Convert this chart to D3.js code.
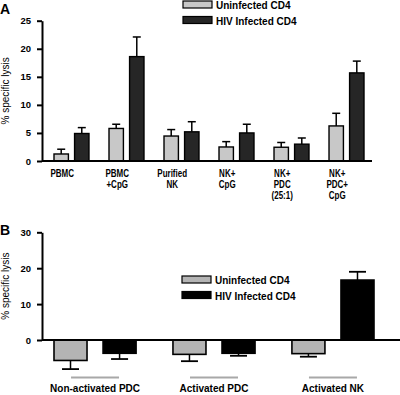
<!DOCTYPE html>
<html>
<head>
<meta charset="utf-8">
<script src="https://cdn.jsdelivr.net/npm/d3@7"></script>
<style>
  body { margin: 0; background: #fff; }
  svg { display: block; font-family: Arial, "Liberation Sans", sans-serif; }
</style>
</head>
<body>
<div id="chart"></div>
<script>
// two stacked bar panels: % specific lysis
// ======================================

var seriesNames = ["Uninfected CD4", "HIV Infected CD4"];

// panel A
var labelsA = [["PBMC"], ["PBMC", "+CpG"], ["Purified", "NK"], ["NK+", "CpG"], ["NK+", "PDC", "(25:1)"], ["NK+", "PDC+", "CpG"]];
var uninfA = [1.25, 5.8, 4.45, 2.5, 2.45, 6.25];
var uninfAErr = [0.85, 0.75, 1.15, 0.95, 0.85, 2.25];
var hivA = [4.9, 18.6, 5.2, 5.0, 3.0, 15.7];
var hivAErr = [1.05, 3.5, 1.8, 1.55, 1.1, 2.1];
var ticksA = [0, 5, 10, 15, 20, 25];

// panel B
var labelsB = ["Non-activated PDC", "Activated PDC", "Activated NK"];
var uninfB = [-5.7, -4.0, -3.8];
var uninfBErr = [2.4, 1.9, 0.85];
var hivB = [-3.7, -3.7, 16.7];
var hivBErr = [1.6, 0.7, 2.3];
var ticksB = [0, 10, 20, 30];

var width = 400, height = 395;

var svg = d3.select("#chart").append("svg")
    .attr("width", width)
    .attr("height", height);

function rows(labels, u, uErr, h, hErr) {
    return labels.map(function(l, i) {
        return {key: i, label: l, vals: [
            {s: seriesNames[0], v: u[i], e: uErr[i]},
            {s: seriesNames[1], v: h[i], e: hErr[i]}
        ]};
    });
}

function yAxis(g, y, ticks) {
    g.call(d3.axisLeft(y).tickValues(ticks).tickSize(5).tickSizeOuter(0).tickPadding(6));
    g.select(".domain").attr("stroke-width", 2);
    g.selectAll(".tick line").attr("stroke-width", 2);
    g.selectAll(".tick text").attr("font-size", 9.5).attr("font-weight", "bold").attr("fill", "#000");
}

function legend(g, colours) {
    seriesNames.forEach(function(s, i) {
        g.append("rect").attr("x", 0).attr("y", i * 15.5).attr("width", 29).attr("height", 7)
            .attr("fill", colours[i]).attr("stroke", "#000").attr("stroke-width", 1.2);
        g.append("text").attr("x", 33).attr("y", i * 15.5 + 8).attr("font-size", 10)
            .attr("font-weight", "bold").text(s);
    });
}

// ---------- panel A ----------
var dataA = rows(labelsA, uninfA, uninfAErr, hivA, hivAErr);
var xA = d3.scaleBand().domain(dataA.map(d => d.key)).range([54, 364]).paddingInner(0.364).paddingOuter(0);
var xA1 = d3.scaleBand().domain(seriesNames).range([0, xA.bandwidth()]).paddingInner(0.3);
var yA = d3.scaleLinear().domain([0, 25]).range([161, 20.7]);
var colA = d3.scaleOrdinal().domain(seriesNames).range(["#c8c8c8", "#262626"]);

svg.append("text").attr("x", 0).attr("y", 14).attr("font-size", 14).attr("font-weight", "bold").text("A");

var gA = svg.append("g");
var grpA = gA.selectAll("g.grp").data(dataA).enter().append("g")
    .attr("transform", d => "translate(" + xA(d.key) + ",0)");

// error bars (upwards only)
grpA.selectAll("g.err").data(d => d.vals).enter().append("g").each(function(d) {
    var cx = xA1(d.s) + xA1.bandwidth() / 2;
    var g = d3.select(this);
    g.append("line").attr("x1", cx).attr("x2", cx).attr("y1", yA(d.v)).attr("y2", yA(d.v + d.e))
        .attr("stroke", "#000").attr("stroke-width", 1.5);
    g.append("line").attr("x1", cx - 4).attr("x2", cx + 4).attr("y1", yA(d.v + d.e)).attr("y2", yA(d.v + d.e))
        .attr("stroke", "#000").attr("stroke-width", 1.5);
});

grpA.selectAll("rect").data(d => d.vals).enter().append("rect")
    .attr("x", d => xA1(d.s))
    .attr("width", xA1.bandwidth())
    .attr("y", d => yA(d.v))
    .attr("height", d => yA(0) - yA(d.v))
    .attr("fill", d => colA(d.s))
    .attr("stroke", "#000")
    .attr("stroke-width", 1.4);

// category labels (narrow type in the original)
grpA.each(function(d) {
    var cx = xA1(seriesNames[0]) + xA1.bandwidth() / 2 + 1;
    var g = d3.select(this);
    d.label.forEach(function(line, j) {
        g.append("text")
            .attr("transform", "translate(" + cx + "," + (177 + j * 11) + ") scale(0.8,1)")
            .attr("text-anchor", "middle").attr("font-size", 10).attr("font-weight", "bold")
            .text(line);
    });
});

gA.append("line").attr("x1", 42).attr("x2", 372).attr("y1", yA(0)).attr("y2", yA(0))
    .attr("stroke", "#000").attr("stroke-width", 2);
gA.append("g").attr("transform", "translate(42,0)").call(yAxis, yA, ticksA);

svg.append("text")
    .attr("transform", "translate(9," + (yA(0) + yA(25)) / 2 + ") rotate(-90)")
    .attr("text-anchor", "middle").attr("font-size", 10)
    .text("% specific lysis");

legend(svg.append("g").attr("transform", "translate(183,1)"), colA.range());

// ---------- panel B ----------
var dataB = rows(labelsB, uninfB, uninfBErr, hivB, hivBErr);
var xB = d3.scaleBand().domain(dataB.map(d => d.key)).range([54, 374]).paddingInner(0.31).paddingOuter(0);
var xB1 = d3.scaleBand().domain(seriesNames).range([0, xB.bandwidth()]).paddingInner(0.327);
var yB = d3.scaleLinear().domain([0, 30]).range([340, 232.3]);
var colB = d3.scaleOrdinal().domain(seriesNames).range(["#b4b4b4", "#000000"]);

svg.append("text").attr("x", 0).attr("y", 235).attr("font-size", 14).attr("font-weight", "bold").text("B");

var gB = svg.append("g");
var grpB = gB.selectAll("g.grp").data(dataB).enter().append("g")
    .attr("transform", d => "translate(" + xB(d.key) + ",0)");

// error bars point away from zero
grpB.selectAll("g.err").data(d => d.vals).enter().append("g").each(function(d) {
    var cx = xB1(d.s) + xB1.bandwidth() / 2;
    var end = d.v < 0 ? d.v - d.e : d.v + d.e;
    var g = d3.select(this);
    g.append("line").attr("x1", cx).attr("x2", cx).attr("y1", yB(d.v)).attr("y2", yB(end))
        .attr("stroke", "#000").attr("stroke-width", 1.5);
    g.append("line").attr("x1", cx - 8.5).attr("x2", cx + 8.5).attr("y1", yB(end)).attr("y2", yB(end))
        .attr("stroke", "#000").attr("stroke-width", 1.8);
});

grpB.selectAll("rect").data(d => d.vals).enter().append("rect")
    .attr("x", d => xB1(d.s))
    .attr("width", xB1.bandwidth())
    .attr("y", d => yB(Math.max(0, d.v)))
    .attr("height", d => Math.abs(yB(d.v) - yB(0)))
    .attr("fill", d => colB(d.s))
    .attr("stroke", "#000")
    .attr("stroke-width", 1.6);

// grey rule + label under each group
grpB.append("line")
    .attr("x1", xB.bandwidth() / 2 - 24).attr("x2", xB.bandwidth() / 2 + 24)
    .attr("y1", 377.5).attr("y2", 377.5)
    .attr("stroke", "#a8a8a8").attr("stroke-width", 2);
grpB.append("text")
    .attr("x", xB.bandwidth() / 2).attr("y", 392)
    .attr("text-anchor", "middle").attr("font-size", 10).attr("font-weight", "bold")
    .text(d => d.label);

gB.append("line").attr("x1", 42).attr("x2", 400).attr("y1", yB(0)).attr("y2", yB(0))
    .attr("stroke", "#000").attr("stroke-width", 2);
gB.append("g").attr("transform", "translate(42,0)").call(yAxis, yB, ticksB);

svg.append("text")
    .attr("transform", "translate(9," + (yB(0) + yB(30)) / 2 + ") rotate(-90)")
    .attr("text-anchor", "middle").attr("font-size", 10)
    .text("% specific lysis");

legend(svg.append("g").attr("transform", "translate(182,276)"), colB.range());
</script>
</body>
</html>
